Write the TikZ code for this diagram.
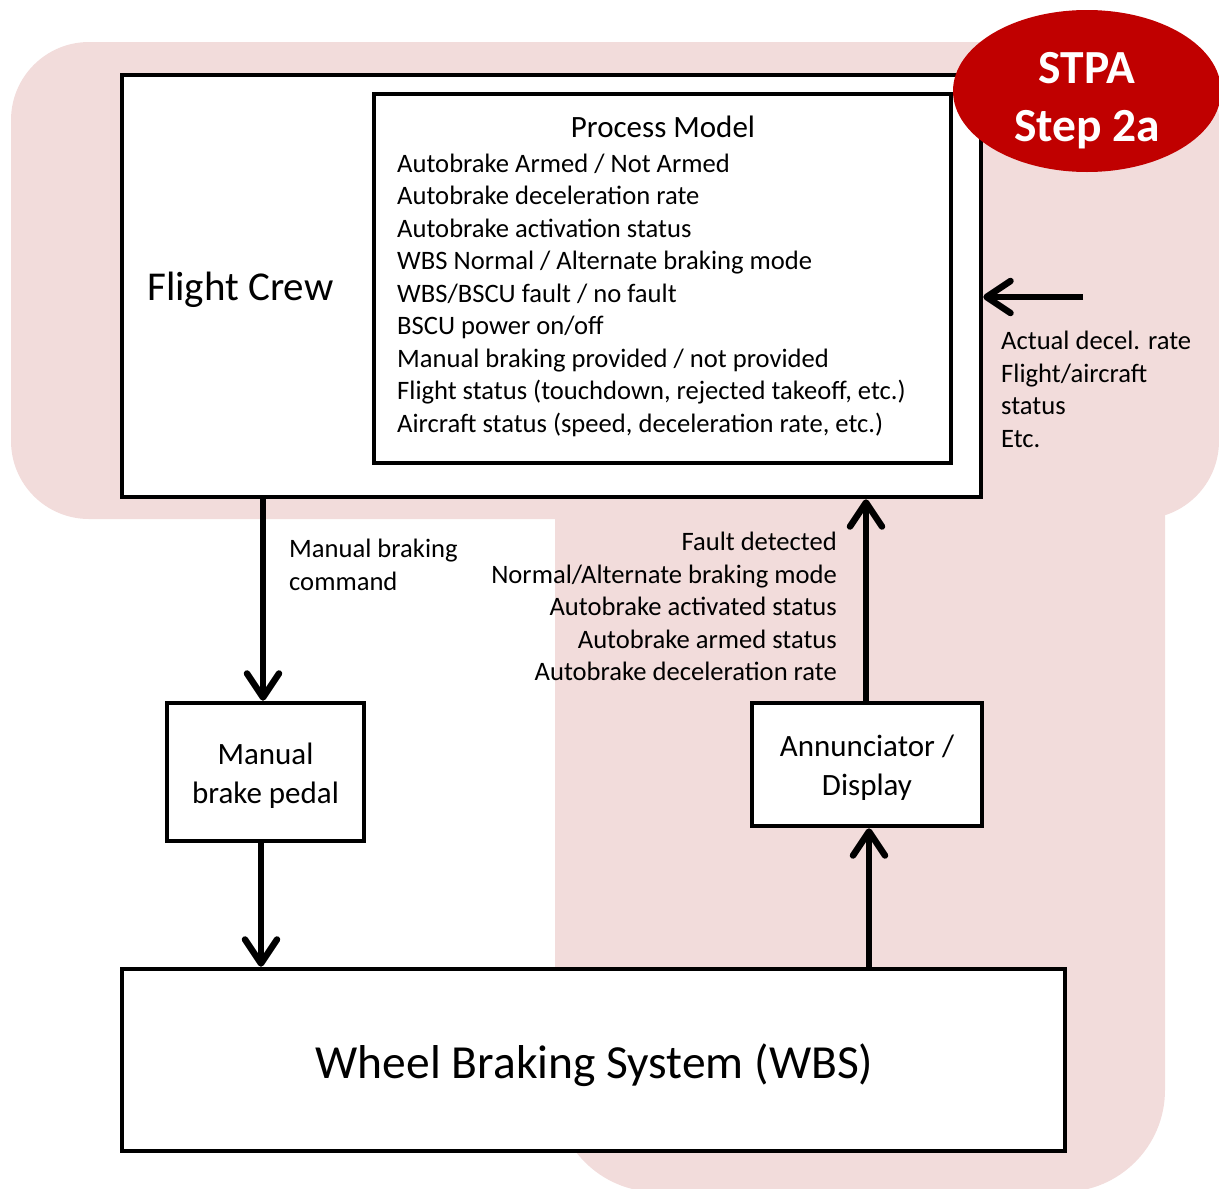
\documentclass[tikz,border=0pt]{standalone}
\usepackage{fontspec}
\setmainfont{Carlito}
\usetikzlibrary{arrows.meta,shapes.geometric}
\definecolor{pinkbg}{RGB}{242,220,219}
\definecolor{stpared}{RGB}{192,0,0}
\newcommand{\fsLabel}{\fontsize{26.6pt}{32.5pt}\selectfont}
\newcommand{\fsBox}{\fontsize{31pt}{39pt}\selectfont}
\newcommand{\fsBig}{\fontsize{41pt}{50pt}\selectfont}
\newcommand{\fsHuge}{\fontsize{47.5pt}{58pt}\selectfont}

\begin{document}
\begin{tikzpicture}[x=1pt,y=-1pt,
  box/.style={draw=black, line width=4.5pt, fill=white, inner sep=0pt},
  boxtext/.style={inner sep=0pt, align=center},
  arr/.style={line width=6.5pt,
    -{Straight Barb[length=24pt,width=32pt,line cap=round,line join=round]}},
  txt/.style={inner sep=0pt, font=\fsLabel},
]
\useasboundingbox (0,0) rectangle (1219,1189);

% shaded background region
\fill[pinkbg, rounded corners=78pt] (11,42) rectangle (1219,519);
\fill[pinkbg, rounded corners=102pt] (555,300) rectangle (1165,1192);

% blocks
\node[box, minimum width=859pt, minimum height=422pt] (fc) at (551.5,286) {};
\node[font=\fsBig, inner sep=0pt, anchor=base west] (fctext) at (147,300) {Flight Crew};

\node[box, minimum width=577pt, minimum height=369pt] (pm) at (662.5,278.5) {};
\node[font=\fsBox, inner sep=0pt, anchor=base] (pmtitle) at (663,137) {Process Model};
\foreach \t [count=\i] in {
  {Autobrake Armed / Not Armed},
  {Autobrake deceleration rate},
  {Autobrake activation status},
  {WBS Normal / Alternate braking mode},
  {WBS/BSCU fault / no fault},
  {BSCU power on/off},
  {Manual braking provided / not provided},
  {Flight status (touchdown, rejected takeoff, etc.)},
  {Aircraft status (speed, deceleration rate, etc.)}}
  \node[txt, anchor=base west] (pm\i) at (397,{172+(\i-1)*32.5}) {\t};

\node[box, minimum width=197pt, minimum height=138pt] (pedal) at (265.5,772) {};
\node[boxtext, font=\fsBox] (pedaltext) at (265.5,776) {Manual\\brake pedal};
\node[box, minimum width=230pt, minimum height=123pt] (ann) at (867,764.5) {};
\node[boxtext, font=\fsBox] (anntext) at (867,768) {Annunciator /\\Display};
\node[box, minimum width=943pt, minimum height=182pt] (wbs) at (593.5,1060) {};
\node[boxtext, font=\fsHuge] (wbstext) at (594.5,1065) {Wheel Braking System (WBS)};

% step badge
\node[ellipse, fill=stpared, minimum width=268pt, minimum height=162pt, inner sep=0pt] (badge) at (1087,91) {};
\node[boxtext, font=\fsHuge\bfseries, text=white] (badgetext) at (1087,101) {STPA\\Step 2a};

% connectors
\draw[arr] (263,497) coordinate (cmdstart) -- (cmdstart |- pedal.north);
\draw[arr] (261,841) coordinate (pedstart) -- (pedstart |- wbs.north);
\draw[arr] (869,969) coordinate (wbsstart) -- (wbsstart |- ann.south);
\draw[arr] (866,703) coordinate (annstart) -- (annstart |- fc.south);
\coordinate (ext) at (1083,297);
\draw[arr] (ext) -- (ext -| fc.east);

% connector labels
\node[txt, anchor=base west] (cmd1) at (289,557) {Manual braking};
\node[txt, anchor=base west] (cmd2) at (289,590) {command};

\foreach \t [count=\i] in {
  {Fault detected},
  {Normal/Alternate braking mode},
  {Autobrake activated status},
  {Autobrake armed status},
  {Autobrake deceleration rate}}
  \node[txt, anchor=base east] (fb\i) at (837,{550.5+(\i-1)*32.5}) {\t};

\foreach \t [count=\i] in {
  {Actual decel. rate},
  {Flight/aircraft},
  {status},
  {Etc.}}
  \node[txt, anchor=base west] (ex\i) at (1001,{349.5+(\i-1)*32.5}) {\t};
\end{tikzpicture}
\end{document}
